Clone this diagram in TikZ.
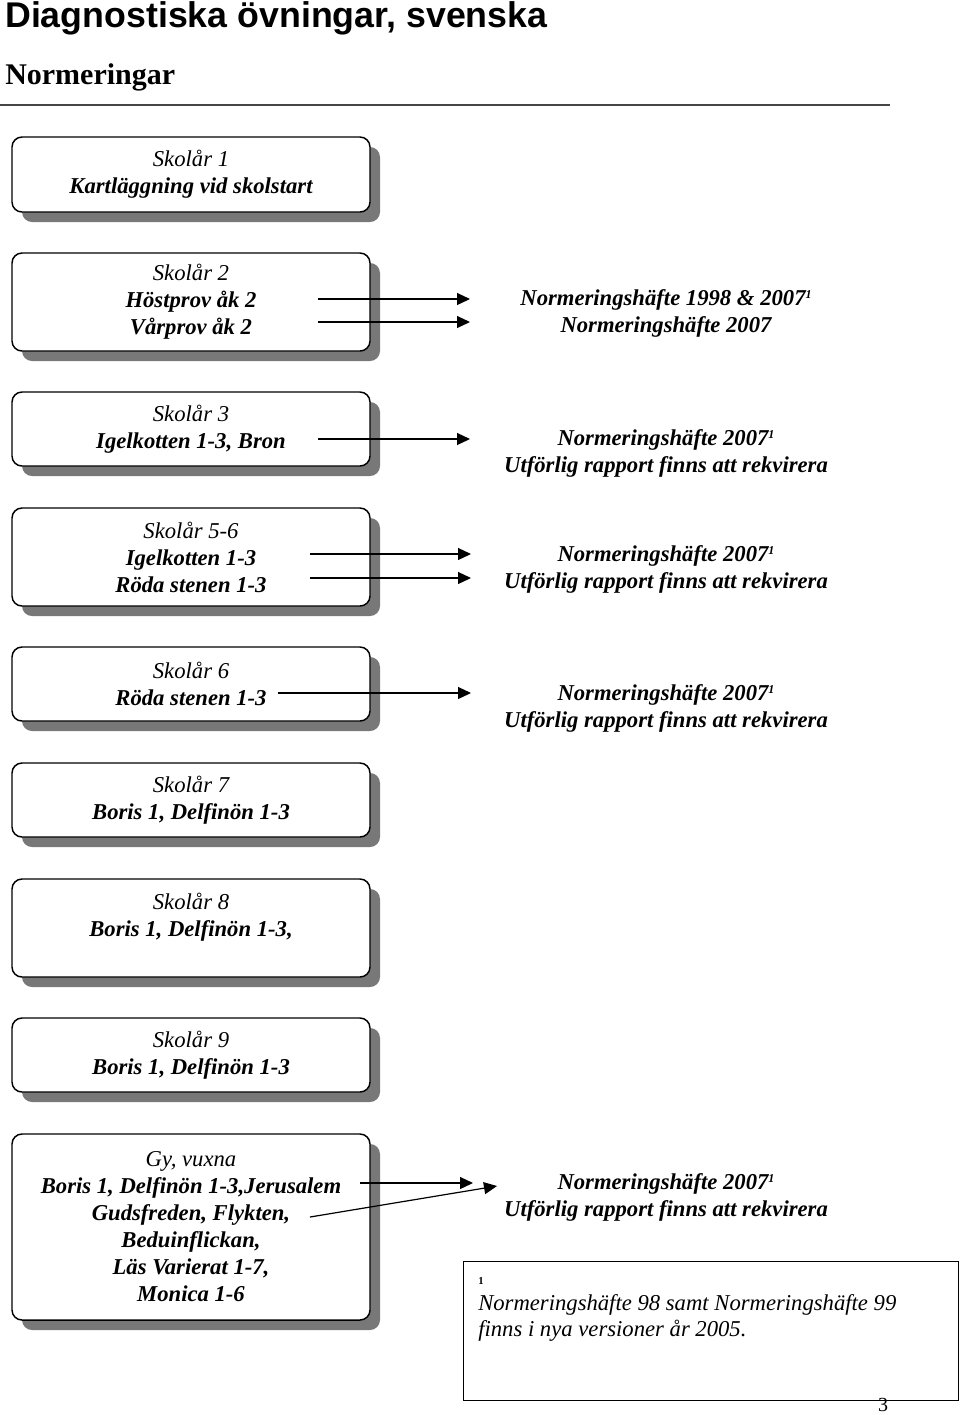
\documentclass[tikz,border=0pt]{standalone}
\usepackage{fontspec}
\setmainfont{Liberation Serif}
\newfontfamily\headfont{Liberation Sans}
\usetikzlibrary{arrows.meta,shadows}

\definecolor{shadowgray}{RGB}{120,120,120}
\definecolor{rulegray}{RGB}{70,70,70}

\newcommand{\fnmark}{\raisebox{0.65ex}{\fontsize{9}{10}\selectfont 1}}

\tikzset{
  skbox/.style={draw, line width=1.1pt, rounded corners=7.5pt, fill=white,
    minimum width=268.5pt, align=center, inner sep=0pt,
    font=\fontsize{17}{20.25}\selectfont\itshape,
    drop shadow={shadow xshift=7.5pt, shadow yshift=-7.5pt, fill=shadowgray, opacity=1}},
  rtext/.style={align=center, font=\fontsize{17}{20.25}\selectfont\bfseries\itshape},
  arr/.style={line width=0.9pt, -{Triangle[length=9.75pt,width=9pt]}},
}

\begin{document}
\begin{tikzpicture}[x=0.75pt,y=0.75pt,yscale=-1,xscale=1]
\useasboundingbox (0,0) rectangle (960,1415);
% Title
\node (title) [anchor=base west, inner sep=0pt, font=\headfont\bfseries\fontsize{26.8}{30}\selectfont] at (5,27) {Diagnostiska övningar, svenska};
\node (sub) [anchor=base west, inner sep=0pt, font=\bfseries\fontsize{22.5}{26}\selectfont] at (5,84) {Normeringar};
\draw [rulegray, line width=1.1pt] (0,105) -- (890,105);

% Boxes
\node (sk1) [skbox, minimum height=56.25pt] at (191,174.5) {Skolår 1\\\textbf{Kartläggning vid skolstart}};
\node (sk2) [skbox, minimum height=73.5pt] at (191,302) {Skolår 2\\\textbf{Höstprov åk 2}\\\textbf{Vårprov åk 2}};
\node (sk3) [skbox, minimum height=55.5pt] at (191,429) {Skolår 3\\\textbf{Igelkotten 1-3, Bron}};
\node (sk56) [skbox, minimum height=73.5pt] at (191,557) {Skolår 5-6\\\textbf{Igelkotten 1-3}\\\textbf{Röda stenen 1-3}};
\node (sk6) [skbox, minimum height=55.5pt] at (191,684) {Skolår 6\\\textbf{Röda stenen 1-3}};
\node (sk7) [skbox, minimum height=55.5pt] at (191,800) {Skolår 7\\\textbf{Boris 1, Delfinön 1-3}};
\node (sk8) [skbox, minimum height=73.5pt] at (191,928) {Skolår 8\\\textbf{Boris 1, Delfinön 1-3,}\\\mbox{}};
\node (sk9) [skbox, minimum height=55.5pt] at (191,1055) {Skolår 9\\\textbf{Boris 1, Delfinön 1-3}};
\node (gy) [skbox, minimum height=139.5pt] at (191,1227) {Gy, vuxna\\\textbf{Boris 1, Delfinön 1-3,Jerusalem}\\\textbf{Gudsfreden, Flykten,}\\\textbf{Beduinflickan,}\\\textbf{Läs Varierat 1-7,}\\\textbf{Monica 1-6}};

% Text Node
\node (nh2) [rtext] at (666,313) {Normeringshäfte 1998 \& 2007\fnmark\\Normeringshäfte 2007};
\node (nh3) [rtext] at (666,453) {Normeringshäfte 2007\fnmark\\Utförlig rapport finns att rekvirera};
\node (nh56) [rtext] at (666,569) {Normeringshäfte 2007\fnmark\\Utförlig rapport finns att rekvirera};
\node (nh6) [rtext] at (666,708) {Normeringshäfte 2007\fnmark\\Utförlig rapport finns att rekvirera};
\node (nhgy) [rtext] at (666,1197) {Normeringshäfte 2007\fnmark\\Utförlig rapport finns att rekvirera};

% Arrow ends
\coordinate (a2s) at (318,299);  \coordinate (a2e) at (470,299);
\coordinate (b2s) at (318,322);  \coordinate (b2e) at (470,322);
\coordinate (a3s) at (318,439);  \coordinate (a3e) at (470,439);
\coordinate (a56s) at (310,554); \coordinate (a56e) at (471,554);
\coordinate (b56s) at (310,578); \coordinate (b56e) at (471,578);
\coordinate (a6s) at (278,693);  \coordinate (a6e) at (471,693);
\coordinate (agys) at (360,1183); \coordinate (agye) at (473,1183);
\coordinate (bgys) at (310,1217); \coordinate (bgye) at (497,1186);

% Straight Lines
\draw [arr] (a2s) -- (a2e);
\draw [arr] (b2s) -- (b2e);
\draw [arr] (a3s) -- (a3e);
\draw [arr] (a56s) -- (a56e);
\draw [arr] (b56s) -- (b56e);
\draw [arr] (a6s) -- (a6e);
\draw [arr] (agys) -- (agye);
\draw [arr] (bgys) -- (bgye);

% Footnote
\node (fn) [draw, line width=1.1pt, anchor=north west, minimum width=371.25pt, minimum height=104.25pt, inner sep=0pt] at (463,1261) {};
\node (fn1) [anchor=west, inner sep=0pt, font=\bfseries\fontsize{8}{9}\selectfont] at (478,1281) {1};
\node (fntext) [anchor=north west, inner sep=0pt, align=left, font=\itshape\fontsize{17}{19.5}\selectfont] at (478,1294) {Normeringshäfte 98 samt Normeringshäfte 99\\finns i nya versioner år 2005.};
\node (pg) [inner sep=0pt, font=\fontsize{15}{18}\selectfont] at (883,1405) {3};
\end{tikzpicture}
\end{document}
